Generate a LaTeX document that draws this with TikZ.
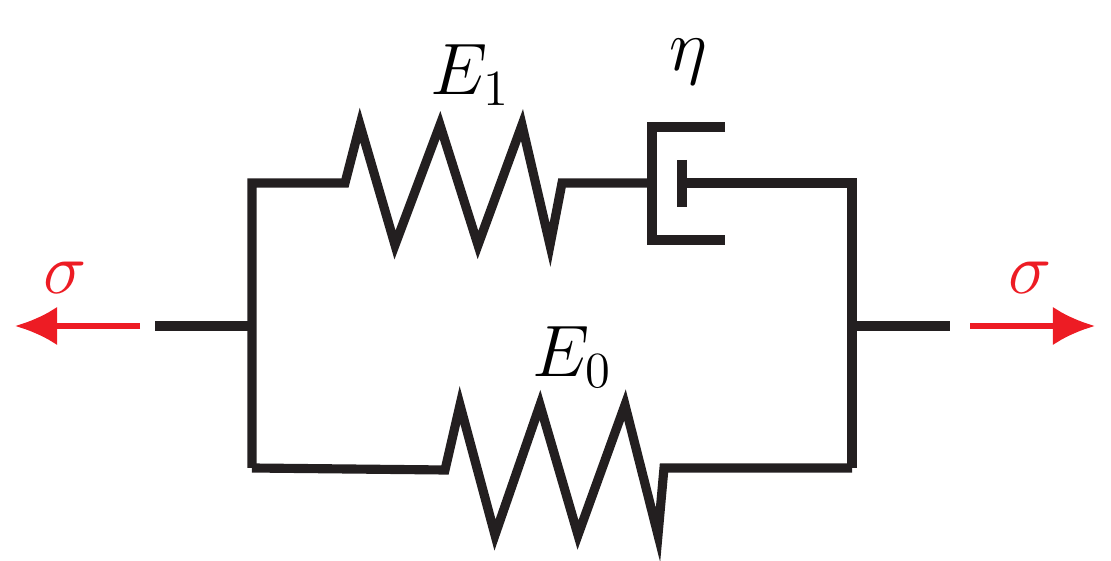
\documentclass[tikz,border=0pt]{standalone}
\usepackage{amsmath}
\usepackage{xcolor}
\usetikzlibrary{arrows.meta}
\definecolor{sred}{RGB}{237,28,36}
\definecolor{wire}{RGB}{35,31,32}
\begin{document}
\begin{tikzpicture}[x=0.01cm,y=-0.01cm,
    link/.style={wire,line width=2.6pt,line join=miter},
    force/.style={sred,line width=1.6pt,-{Latex[length=12pt,width=11pt]}},
    lbl/.style={font=\fontsize{22}{26}\selectfont}]
        \useasboundingbox (0,0) rectangle (1111,561);
        % frame corners
        \coordinate (TL) at (252,183);
        \coordinate (BL) at (252,468);
        \coordinate (TR) at (852,183);
        \coordinate (BR) at (852,468);
        \coordinate (L)  at (252,326);
        \coordinate (R)  at (852,326);
        \coordinate (Ls) at (155,326);
        \coordinate (Rs) at (950,326);
        \coordinate (La) at (140,326);
        \coordinate (Le) at (15,326);
        \coordinate (Ra) at (970,326);
        \coordinate (Re) at (1095,326);

        % spring E1 and dashpot
        \draw[link] (BL) -- (TL) -- (345,183) -- (360,125) -- (395,245) -- (440,125)
              -- (478,245) -- (522,125) -- (550,245) -- (562,183) -- (652,183);
        \draw[link] (725,127) -- (652,127) -- (652,240) -- (725,240);
        \draw[link] (682,160) -- (682,207);
        \draw[link] (682,183) -- (TR) -- (BR);

        % spring E0
        \draw[link] (BL) -- (445,470) -- (460,405) -- (495,535) -- (540,405)
              -- (578,535) -- (625,405) -- (658,535) -- (664,468) -- (BR);

        % stubs
        \draw[link] (Ls) -- (L);
        \draw[link] (R) -- (Rs);

        \draw[force] (La) -- (Le);
        \draw[force] (Ra) -- (Re);

        \node[lbl]          (e1)  at (470,75)  {$E_1$};
        \node[lbl]          (eta) at (688,62)  {$\eta$};
        \node[lbl]          (e0)  at (572,357) {$E_0$};
        \node[lbl,sred]     (sl)  at (65,278)  {$\sigma$};
        \node[lbl,sred]     (sr)  at (1030,278) {$\sigma$};
    \end{tikzpicture}
\end{document}
